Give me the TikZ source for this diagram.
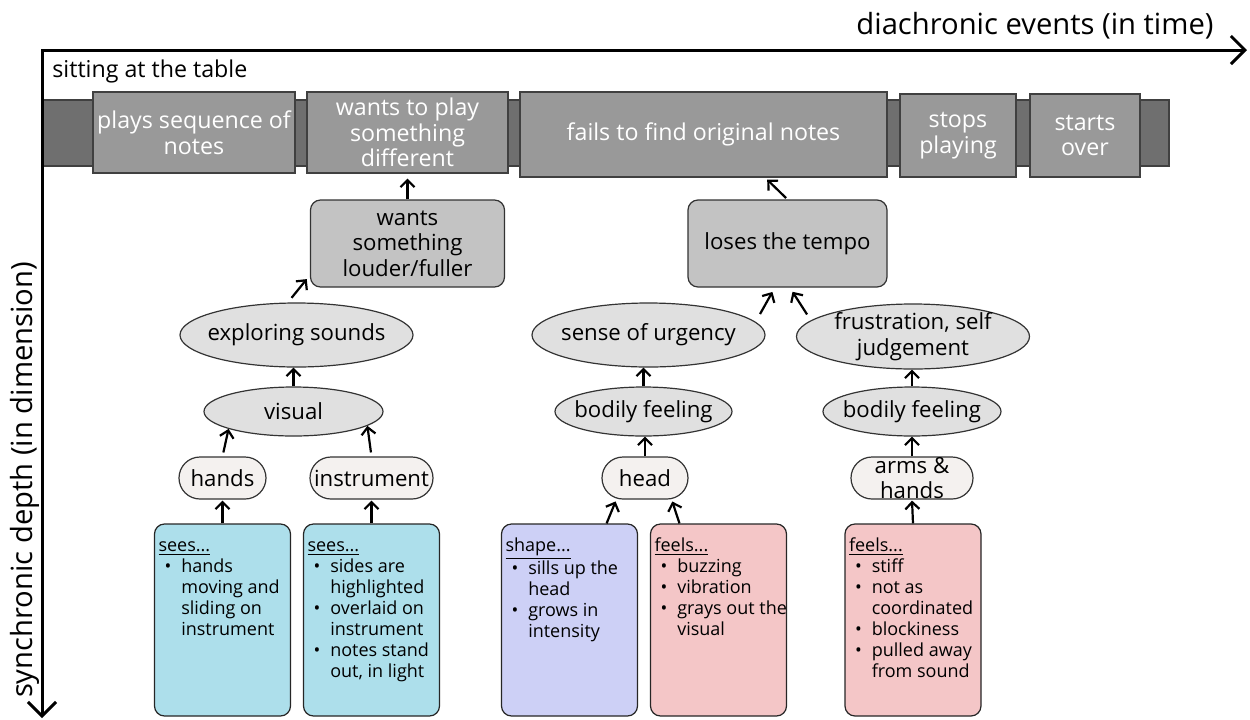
\documentclass[tikz,border=0pt]{standalone}
\usepackage{fontspec}
\setmainfont{Open Sans}
\usetikzlibrary{arrows.meta,shapes.geometric}
\definecolor{bandgray}{HTML}{6F6F6F}
\definecolor{eventgray}{HTML}{999999}
\definecolor{causegray}{HTML}{C3C3C3}
\definecolor{ovalgray}{HTML}{E0E0E0}
\definecolor{partwhite}{HTML}{F4F1EF}
\definecolor{seeblue}{HTML}{ADDFEB}
\definecolor{shapeblue}{HTML}{CDD0F6}
\definecolor{feelpink}{HTML}{F4C6C7}
\newcommand\say[2]{\node[align=center](#1-t)at(#1){#2};}
\newcommand\itm{\textbullet&}
\newcommand\notelist[2]{\parbox[c][83pt][t]{64pt}{\begin{tabular}{@{\hspace{3pt}}l@{\hspace{5pt}}l@{}}\multicolumn{2}{@{}l@{}}{\underline{#1}}\\#2\end{tabular}}}

\begin{document}
\begin{tikzpicture}[x=0.5pt,y=-0.5pt,font=\fontsize{11.1}{12.8}\selectfont,>={Straight Barb[length=3.5pt,width=7pt]}]
\useasboundingbox (0,0) rectangle (1250,719);
% Node styles: events, causes, feelings, body parts, sense boxes
\tikzstyle{event node}=[draw=black!75,line width=0.6pt,fill=eventgray,text=white,align=center,inner sep=1pt,font=\fontsize{11.6}{12.8}\selectfont]
\tikzstyle{cause node}=[draw=black!80,line width=0.6pt,fill=causegray,rounded corners=5pt,align=center,inner sep=1pt]
\tikzstyle{feeling node}=[ellipse,draw=black!80,line width=0.6pt,fill=ovalgray,inner sep=0]
\tikzstyle{part node}=[rectangle,draw=black!80,line width=0.6pt,fill=partwhite,rounded corners=10.5pt,inner sep=0,minimum height=21pt]
\tikzstyle{sense box}=[draw=black!85,line width=0.6pt,rounded corners=5pt,inner xsep=2pt,inner ysep=6.5pt,font=\fontsize{9}{10.5}\selectfont]
\tikzstyle{link}=[->,line width=1.1pt]
% the time band
\draw[draw=black!75,line width=0.6pt,fill=bandgray](42,100)rectangle(1169,166);
\node[event node,minimum width=101pt,minimum height=40.5pt](plays)at(194,132.5){plays sequence of\\notes};
\node[event node,minimum width=100.5pt,minimum height=40.5pt](differ)at(407.5,132.5){wants to play\\something\\different};
\node[event node,minimum width=183.5pt,minimum height=42.5pt](fails)at(703.5,134.5){fails to find original notes};
\node[event node,minimum width=58pt,minimum height=41.5pt](stops)at(958,135.5){stops\\playing};
\node[event node,minimum width=55pt,minimum height=41.5pt](over)at(1085,135.5){starts\\over};
\node[anchor=west,inner sep=0,font=\fontsize{11.6}{12.8}\selectfont](table)at(52,71){sitting at the table};
% causes
\node[cause node,minimum width=97pt,minimum height=43.5pt](louder)at(407.5,243.5){wants\\something\\louder/fuller};
\node[cause node,minimum width=99.5pt,minimum height=43.5pt](tempo)at(787.5,243.5){loses the tempo};
% feelings
\node[feeling node,minimum width=116.5pt,minimum height=32pt](explore)at(296.5,335){};
\node[feeling node,minimum width=89.5pt,minimum height=24.5pt](visual)at(293.5,411.5){};
\node[feeling node,minimum width=116.5pt,minimum height=32pt](urgency)at(648.5,335){};
\node[feeling node,minimum width=88.5pt,minimum height=24.5pt](bodyA)at(643.5,411.5){};
\node[feeling node,minimum width=116.5pt,minimum height=32.5pt](frust)at(913,336.5){};
\node[feeling node,minimum width=89pt,minimum height=24.5pt](bodyB)at(912,411.5){};
\say{explore}{exploring sounds}
\say{visual}{visual}
\say{urgency}{sense of urgency}
\say{bodyA}{bodily feeling}
\say{frust}{frustration, self\\judgement}
\say{bodyB}{bodily feeling}
% body parts
\node[part node,minimum width=43.5pt](hands)at(222.5,478){};
\node[part node,minimum width=61.5pt](instr)at(371.5,478){};
\node[part node,minimum width=43pt](head)at(645,478){};
\node[part node,minimum width=61pt](arms)at(912,478){};
\say{hands}{hands}
\say{instr}{instrument}
\say{head}{head}
\say{arms}{arms \&\\hands}
% sense boxes
\node[sense box,fill=seeblue](seeA)at(222.5,620){\notelist{sees...}{\itm hands\\&moving and\\&sliding on\\&instrument}};
\node[sense box,fill=seeblue](seeB)at(371.5,620){\notelist{sees...}{\itm sides are\\&highlighted\\\itm overlaid on\\&instrument\\\itm notes stand\\&out, in light}};
\node[sense box,fill=shapeblue](shapeC)at(569.5,620){\notelist{shape...}{\itm sills up the\\&head\\\itm grows in\\&intensity}};
\node[sense box,fill=feelpink](feelD)at(718.5,620){\notelist{feels...}{\itm buzzing\\\itm vibration\\\itm grays out the\\&visual}};
\node[sense box,fill=feelpink](feelE)at(913,620){\notelist{feels...}{\itm stiff\\\itm not as\\&coordinated\\\itm blockiness\\\itm pulled away\\&from sound}};
% links upward
\draw[link,shorten >=2.5pt](louder.north)--(differ.south);
\draw[link,shorten <=3pt,shorten >=2.5pt](explore.105)--(louder.198);
\draw[link](visual.north)--(visual.north|-explore.south);
\draw[link,shorten <=2pt](hands.north)--(visual.195);
\draw[link,shorten <=2pt](instr.north)--(visual.-11);
\draw[link,shorten >=0.5pt](seeA.north)--(hands.south);
\draw[link,shorten >=0.5pt](seeB.north)--(instr.south);
\draw[link,shorten <=1pt,shorten >=1.5pt](tempo.north)--(fails.325);
\draw[link,shorten <=4.5pt,shorten >=2.5pt](urgency.7)--(tempo.254);
\draw[link,shorten <=3.5pt,shorten >=2.5pt](frust.171)--(tempo.273);
\draw[link](bodyA.north)--(bodyA.north|-urgency.south);
\draw[link](bodyB.north)--(bodyB.north|-frust.south);
\draw[link](head.north)--(head.north|-bodyA.south);
\draw[link](arms.north)--(arms.north|-bodyB.south);
\draw[link,shorten >=1pt](shapeC.69)--(head.217);
\draw[link,shorten >=1pt](feelD.112)--(head.321);
\draw[link,shorten >=0.5pt](feelE.north)--(arms.south);
% axes
\coordinate(origin)at(42,50);
\coordinate(time end)at(1247,50);
\coordinate(depth end)at(42,718);
\draw[line width=1.5pt,{Straight Barb[length=7pt,width=14pt]}-{Straight Barb[length=7pt,width=14pt]}](depth end)--(origin)--(time end);
\node[font=\fontsize{14.6}{17}\selectfont](time)at(1035,26){diachronic events (in time)};
\node[font=\fontsize{14.6}{17}\selectfont,rotate=90](depth)at(25,480){synchronic depth (in dimension)};
\end{tikzpicture}
\end{document}
